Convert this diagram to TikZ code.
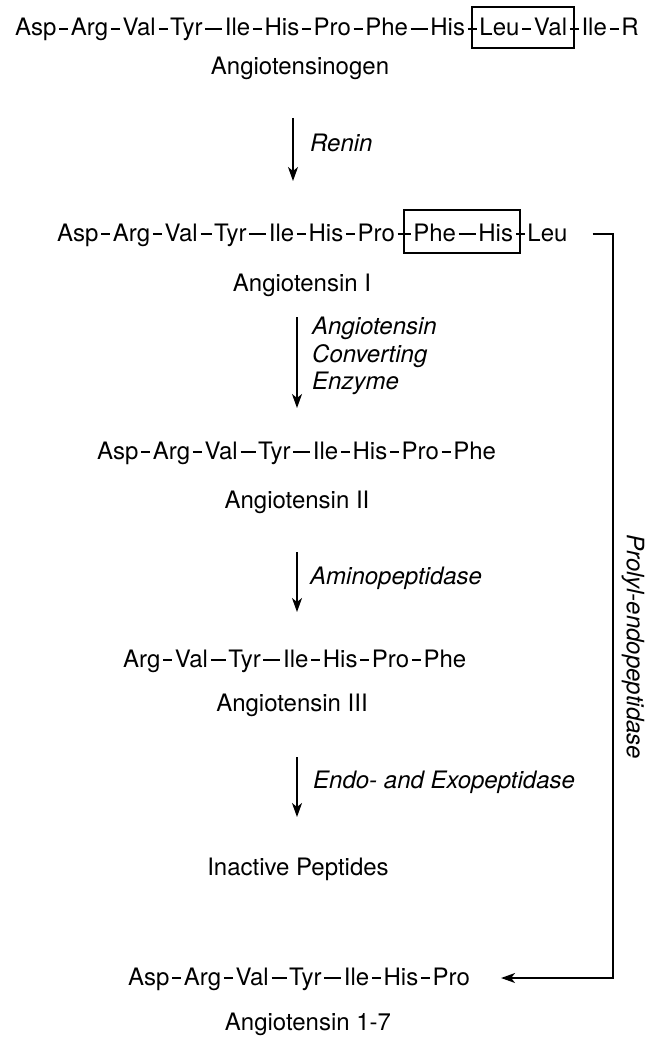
\documentclass[tikz,border=0pt]{standalone}
\usepackage{fontspec}
\setmainfont{TeX Gyre Heros}
\usetikzlibrary{positioning,arrows.meta,calc}

\tikzset{
  res/.style={inner sep=0pt, text height=18pt, text depth=4pt,
    font=\fontsize{24}{28}\selectfont},
  bond/.style={line width=1.6pt, shorten <=2.5pt, shorten >=2.5pt},
  pepname/.style={inner sep=0pt, font=\fontsize{24}{28}\selectfont},
  enzyme/.style={inner sep=0pt, anchor=west, align=left,
    font=\fontsize{24}{27.5}\selectfont\itshape},
  conv/.style={line width=1.4pt, -{Stealth[length=14pt, width=10pt, inset=4pt]}},
  cutbox/.style={line width=1.8pt},
}

% one peptide chain: name prefix, start point, list of gap/residue
\newcommand{\peptide}[3]{%
  \foreach \gap/\aa [count=\i, remember=\i as \j (initially 0)] in {#3} {
    \ifnum\i=1
      \node[res, anchor=west] (#1-1) at (#2) {\aa};
    \else
      \node[res, right=\gap of #1-\j] (#1-\i) {\aa};
      \draw[bond] (#1-\j) -- (#1-\i);
    \fi
  }}

\begin{document}
\begin{tikzpicture}[x=1pt, y=-1pt]
  \useasboundingbox (0,0) rectangle (657,1038);

  % chains
  \peptide{gen}{15,29}{0pt/Asp,14pt/Arg,14pt/Val,14pt/Tyr,22pt/Ile,14pt/His,14pt/Pro,
    14pt/Phe,22pt/His,14pt/Leu,14pt/Val,14pt/Ile,14pt/R}
  \peptide{one}{57,234}{0pt/Asp,14pt/Arg,14pt/Val,16pt/Tyr,22pt/Ile,14pt/His,14pt/Pro,
    18pt/Phe,22pt/His,14pt/Leu}
  \peptide{two}{97,452}{0pt/Asp,14pt/Arg,14pt/Val,20pt/Tyr,22pt/Ile,14pt/His,14pt/Pro,14pt/Phe}
  \peptide{three}{123,660}{0pt/Arg,14pt/Val,20pt/Tyr,22pt/Ile,14pt/His,14pt/Pro,14pt/Phe}
  \peptide{sev}{128,978}{0pt/Asp,14pt/Arg,14pt/Val,20pt/Tyr,22pt/Ile,14pt/His,14pt/Pro}

  % cleavage boxes
  \coordinate (genL) at ($(gen-9.east)!0.5!(gen-10.west)$);
  \coordinate (genR) at ($(gen-11.east)!0.5!(gen-12.west)$);
  \draw[cutbox] ([yshift=22pt]genL) rectangle ([yshift=-19pt]genR);
  \coordinate (oneL) at ($(one-7.east)!0.5!(one-8.west)$);
  \coordinate (oneR) at ($(one-9.east)!0.5!(one-10.west)$);
  \draw[cutbox] ([yshift=24pt]oneL) rectangle ([yshift=-19pt]oneR);

  % names
  \node[pepname] (gen-name) at (300,68) {Angiotensinogen};
  \node[pepname] (one-name) at (302,285) {Angiotensin I};
  \node[pepname] (two-name) at (297,502) {Angiotensin II};
  \node[pepname] (three-name) at (292,705) {Angiotensin III};
  \node[pepname] (inactive) at (298,869) {Inactive Peptides};
  \node[pepname] (sev-name) at (308,1024) {Angiotensin 1-7};

  % enzymes
  \coordinate (renin-top) at (293,118);
  \coordinate (renin-tip) at (293,181);
  \draw[conv] (renin-top) -- (renin-tip);
  \node[enzyme] (renin) at (310,143) {Renin};
  \coordinate (ace-top) at (297,317);
  \coordinate (ace-tip) at (297,408);
  \draw[conv] (ace-top) -- (ace-tip);
  \node[enzyme] (ace) at (312,356) {Angiotensin\\Converting\\Enzyme};
  \coordinate (amino-top) at (297,552);
  \coordinate (amino-tip) at (297,612);
  \draw[conv] (amino-top) -- (amino-tip);
  \node[enzyme] (amino) at (310,578) {Aminopeptidase};
  \coordinate (endo-top) at (297,757);
  \coordinate (endo-tip) at (297,817);
  \draw[conv] (endo-top) -- (endo-tip);
  \node[enzyme] (endo) at (313,782) {Endo- and Exopeptidase};

  % prolyl-endopeptidase route
  \coordinate (pe-rail) at (613,600);
  \draw[conv] ([xshift=25pt]one-10.east) -- (pe-rail |- one-10.east)
    -- (pe-rail |- sev-7.east) -- ([xshift=31pt]sev-7.east);
  \node[enzyme, rotate=-90, anchor=center] (prolyl) at (633,647) {Prolyl-endopeptidase};
\end{tikzpicture}
\end{document}
